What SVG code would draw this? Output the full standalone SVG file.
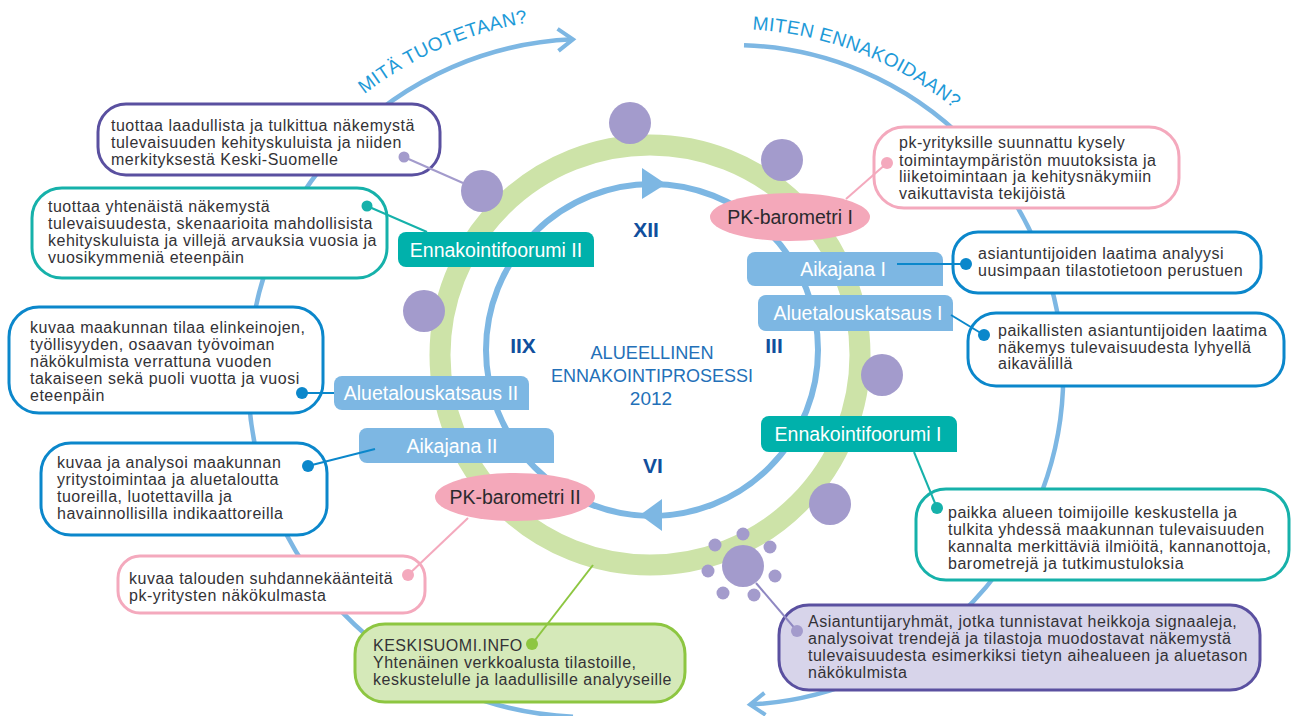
<svg xmlns="http://www.w3.org/2000/svg" width="1291" height="716" viewBox="0 0 1291 716">
  <style>
    .body { font-family: "Liberation Sans", Arial, sans-serif; font-size: 16px; letter-spacing: 0.5px; fill: #333236; }
    .lbl { font-family: "Liberation Sans", Arial, sans-serif; font-size: 19.5px; fill: #ffffff; text-anchor: middle; }
    .ell { font-family: "Liberation Sans", Arial, sans-serif; font-size: 19.5px; fill: #2b2a2e; text-anchor: middle; }
    .num { font-family: "Liberation Sans", Arial, sans-serif; font-size: 21px; font-weight: bold; fill: #114f9d; text-anchor: middle; }
    .title { font-family: "Liberation Sans", Arial, sans-serif; font-size: 19px; fill: #2370b8; text-anchor: middle; }
    .arctxt { font-family: "Liberation Sans", Arial, sans-serif; font-size: 19px; fill: #1e9ad8; letter-spacing: 0.4px; }
    .outer { fill: none; stroke: #7db7e3; stroke-width: 4.5; }
    .box { fill: #ffffff; stroke-width: 3; }
    .b-blue { stroke: #0b87cb; }
    .b-teal { stroke: #16b1aa; }
    .b-purple { stroke: #5a50a0; }
    .b-pink { stroke: #f4a9bd; }
    .b-green { stroke: #8dc641; fill: #d5e9b9; }
    .f-purple { fill: #d7d4ea; }
    .tag-blue { fill: #7db7e3; }
    .tag-teal { fill: #00b1ab; }
    .pill { fill: #f4a8ba; }
    .dotp { fill: #a39bcc; }
    .c { fill: none; stroke-width: 2; }
  </style>
  <defs>
    <marker id="chev" viewBox="-3 -14 22 28" refX="15" refY="0" markerWidth="22" markerHeight="28" markerUnits="userSpaceOnUse" orient="auto">
      <path d="M0,-11 L15,0 L0,11" fill="none" stroke="#7db7e3" stroke-width="4"/>
    </marker>
    <path id="arcL" d="M 364.3 94.3 A 360 360 0 0 1 586 18"/>
    <path id="arcR" d="M 752.3 29.6 A 346 346 0 0 1 998.1 152.6"/>
  </defs>

  <!-- outer process arcs -->
  <g id="outer-arcs">
    <path class="outer" d="M 573 716.7 A 339 339 0 0 1 573 39.3" marker-end="url(#chev)"/>
    <path class="outer" d="M 744 45.2 A 330 330 0 0 1 750 704.6" marker-end="url(#chev)"/>
    <text class="arctxt"><textPath href="#arcL">MITÄ TUOTETAAN?</textPath></text>
    <text class="arctxt"><textPath href="#arcR">MITEN ENNAKOIDAAN?</textPath></text>
  </g>

  <!-- green year ring and inner cycle -->
  <g id="ring">
    <circle cx="650" cy="355" r="210" fill="none" stroke="#cde3a8" stroke-width="21"/>
    <circle cx="652" cy="350" r="166" fill="none" stroke="#7db7e3" stroke-width="6"/>
    <path d="M642,168 L666,184 L642,199 Z" fill="#7db7e3"/>
    <path d="M640,515 L662,499 L662,531 Z" fill="#7db7e3"/>
  </g>

  <g id="ring-dots">
    <circle class="dotp" cx="630" cy="123" r="21"/>
    <circle class="dotp" cx="782" cy="160" r="21"/>
    <circle class="dotp" cx="482" cy="191" r="21"/>
    <circle class="dotp" cx="424" cy="311" r="21"/>
    <circle class="dotp" cx="882" cy="375" r="21"/>
    <circle class="dotp" cx="830" cy="504" r="21"/>
  </g>

  <g id="expert-cluster">
    <circle class="dotp" cx="743" cy="566" r="21"/>
    <circle class="dotp" cx="715" cy="545" r="6.5"/>
    <circle class="dotp" cx="743" cy="534" r="6.5"/>
    <circle class="dotp" cx="770" cy="547" r="6.5"/>
    <circle class="dotp" cx="708" cy="571" r="6.5"/>
    <circle class="dotp" cx="775" cy="576" r="6.5"/>
    <circle class="dotp" cx="723" cy="593" r="6.5"/>
    <circle class="dotp" cx="754" cy="595" r="6.5"/>
  </g>

  <!-- centre -->
  <g id="centre">
    <text class="title" x="652" y="359" textLength="123" lengthAdjust="spacingAndGlyphs">ALUEELLINEN</text>
    <text class="title" x="652" y="382" textLength="202" lengthAdjust="spacingAndGlyphs">ENNAKOINTIPROSESSI</text>
    <text class="title" x="651" y="405">2012</text>
    <text class="num" x="646" y="237">XII</text>
    <text class="num" x="523" y="353">IIX</text>
    <text class="num" x="774" y="353">III</text>
    <text class="num" x="653" y="473">VI</text>
  </g>

  <!-- event tags on the ring -->
  <g id="tag-ennakointifoorumi-2">
    <path class="tag-teal" d="M406,232 H586 A8,8 0 0 1 594,240 V267 H406 A8,8 0 0 1 398,259 V240 A8,8 0 0 1 406,232 Z"/>
    <text class="lbl" x="496" y="257">Ennakointifoorumi II</text>
  </g>
  <g id="tag-aikajana-1">
    <path class="tag-blue" d="M755,252 H935 A8,8 0 0 1 943,260 V286 H755 A8,8 0 0 1 747,278 V260 A8,8 0 0 1 755,252 Z"/>
    <text class="lbl" x="843" y="276">Aikajana I</text>
  </g>
  <g id="tag-aluetalouskatsaus-1">
    <path class="tag-blue" d="M766,295 H945 A8,8 0 0 1 953,303 V331 H766 A8,8 0 0 1 758,323 V303 A8,8 0 0 1 766,295 Z"/>
    <text class="lbl" x="858" y="320">Aluetalouskatsaus I</text>
  </g>
  <g id="tag-ennakointifoorumi-1">
    <path class="tag-teal" d="M769,416 H949 A8,8 0 0 1 957,424 V452 H769 A8,8 0 0 1 761,444 V424 A8,8 0 0 1 769,416 Z"/>
    <text class="lbl" x="858" y="441">Ennakointifoorumi I</text>
  </g>
  <g id="tag-aluetalouskatsaus-2">
    <path class="tag-blue" d="M342,376 H521 A8,8 0 0 1 529,384 V410 H342 A8,8 0 0 1 334,402 V384 A8,8 0 0 1 342,376 Z"/>
    <text class="lbl" x="431" y="400">Aluetalouskatsaus II</text>
  </g>
  <g id="tag-aikajana-2">
    <path class="tag-blue" d="M367,428 H546 A8,8 0 0 1 554,436 V463 H367 A8,8 0 0 1 359,455 V436 A8,8 0 0 1 367,428 Z"/>
    <text class="lbl" x="452" y="453">Aikajana II</text>
  </g>
  <g id="pk-barometri-1">
    <ellipse class="pill" cx="790" cy="217" rx="80" ry="24"/>
    <text class="ell" x="790" y="224">PK-barometri I</text>
  </g>
  <g id="pk-barometri-2">
    <ellipse class="pill" cx="515" cy="497" rx="80" ry="24"/>
    <text class="ell" x="515" y="504">PK-barometri II</text>
  </g>

  <!-- description boxes -->
  <g id="box-tuottaa-laadullista">
    <rect class="box b-purple" x="98" y="104" width="342" height="71" rx="28"/>
    <text class="body" x="111" y="131">tuottaa laadullista ja tulkittua näkemystä</text>
    <text class="body" x="111" y="148">tulevaisuuden kehityskuluista ja niiden</text>
    <text class="body" x="111" y="165">merkityksestä Keski-Suomelle</text>
  </g>
  <g id="box-tuottaa-yhtenaista">
    <rect class="box b-teal" x="32" y="188" width="355" height="90" rx="30"/>
    <text class="body" x="48" y="212">tuottaa yhtenäistä näkemystä</text>
    <text class="body" x="48" y="229">tulevaisuudesta, skenaarioita mahdollisista</text>
    <text class="body" x="48" y="246">kehityskuluista ja villejä arvauksia vuosia ja</text>
    <text class="body" x="48" y="263">vuosikymmeniä eteenpäin</text>
  </g>
  <g id="box-kuvaa-maakunnan">
    <rect class="box b-blue" x="9" y="307" width="314" height="106" rx="30"/>
    <text class="body" x="30" y="333">kuvaa maakunnan tilaa elinkeinojen,</text>
    <text class="body" x="30" y="350">työllisyyden, osaavan työvoiman</text>
    <text class="body" x="30" y="367">näkökulmista verrattuna vuoden</text>
    <text class="body" x="30" y="384">takaiseen sekä puoli vuotta ja vuosi</text>
    <text class="body" x="30" y="401">eteenpäin</text>
  </g>
  <g id="box-kuvaa-ja-analysoi">
    <rect class="box b-blue" x="41" y="443" width="286" height="92" rx="30"/>
    <text class="body" x="57" y="468">kuvaa ja analysoi maakunnan</text>
    <text class="body" x="57" y="485">yritystoimintaa ja aluetaloutta</text>
    <text class="body" x="57" y="502">tuoreilla, luotettavilla ja</text>
    <text class="body" x="57" y="519">havainnollisilla indikaattoreilla</text>
  </g>
  <g id="box-suhdannekaanteet">
    <rect class="box b-pink" x="118" y="556" width="307" height="57" rx="22"/>
    <text class="body" x="129" y="584">kuvaa talouden suhdannekäänteitä</text>
    <text class="body" x="129" y="601">pk-yritysten näkökulmasta</text>
  </g>
  <g id="box-keskisuomi-info">
    <rect class="box b-green" x="355" y="624" width="330" height="78" rx="30"/>
    <text class="body" x="373" y="651">KESKISUOMI.INFO</text>
    <text class="body" x="373" y="668">Yhtenäinen verkkoalusta tilastoille,</text>
    <text class="body" x="373" y="685">keskustelulle ja laadullisille analyyseille</text>
  </g>
  <g id="box-pk-kysely">
    <rect class="box b-pink" x="874" y="127" width="305" height="81" rx="30"/>
    <text class="body" x="899" y="148">pk-yrityksille suunnattu kysely</text>
    <text class="body" x="899" y="166">toimintaympäristön muutoksista ja</text>
    <text class="body" x="899" y="182">liiketoimintaan ja kehitysnäkymiin</text>
    <text class="body" x="899" y="199">vaikuttavista tekijöistä</text>
  </g>
  <g id="box-analyysi">
    <rect class="box b-blue" x="953" y="232" width="308" height="61" rx="25"/>
    <text class="body" x="978" y="259">asiantuntijoiden laatima analyysi</text>
    <text class="body" x="978" y="276">uusimpaan tilastotietoon perustuen</text>
  </g>
  <g id="box-paikallisten">
    <rect class="box b-blue" x="968" y="313" width="316" height="73" rx="28"/>
    <text class="body" x="998" y="336">paikallisten asiantuntijoiden laatima</text>
    <text class="body" x="998" y="353">näkemys tulevaisuudesta lyhyellä</text>
    <text class="body" x="998" y="369">aikavälillä</text>
  </g>
  <g id="box-paikka">
    <rect class="box b-teal" x="916" y="489" width="373" height="91" rx="30"/>
    <text class="body" x="948" y="518">paikka alueen toimijoille keskustella ja</text>
    <text class="body" x="948" y="535">tulkita yhdessä maakunnan tulevaisuuden</text>
    <text class="body" x="948" y="552">kannalta merkittäviä ilmiöitä, kannanottoja,</text>
    <text class="body" x="948" y="569">barometrejä ja tutkimustuloksia</text>
  </g>
  <g id="box-asiantuntijaryhmat">
    <rect class="box b-purple f-purple" x="779" y="605" width="481" height="85" rx="30"/>
    <text class="body" x="808" y="627">Asiantuntijaryhmät, jotka tunnistavat heikkoja signaaleja,</text>
    <text class="body" x="808" y="644">analysoivat trendejä ja tilastoja muodostavat näkemystä</text>
    <text class="body" x="808" y="661">tulevaisuudesta esimerkiksi tietyn aihealueen ja aluetason</text>
    <text class="body" x="808" y="678">näkökulmista</text>
  </g>

  <!-- connectors -->
  <g id="connectors">
    <line class="c" stroke="#a39bcc" x1="404" y1="157" x2="463" y2="183"/>
    <circle cx="404" cy="157" r="5.5" fill="#a39bcc"/>

    <line class="c" stroke="#16b1aa" x1="367" y1="206" x2="427" y2="232"/>
    <circle cx="367" cy="206" r="5.5" fill="#16b1aa"/>

    <line class="c" stroke="#f4a9bd" x1="887" y1="163" x2="846" y2="199"/>
    <circle cx="887" cy="163" r="6" fill="#f4a9bd"/>

    <line class="c" stroke="#0b87cb" stroke-width="2.5" x1="897" y1="264" x2="966" y2="264"/>
    <circle cx="966" cy="264" r="6" fill="#0b87cb"/>

    <line class="c" stroke="#0b87cb" x1="951" y1="315" x2="984" y2="335"/>
    <circle cx="984" cy="335" r="6" fill="#0b87cb"/>

    <line class="c" stroke="#16b1aa" x1="914" y1="452" x2="937" y2="508"/>
    <circle cx="937" cy="508" r="6" fill="#16b1aa"/>

    <line class="c" stroke="#0b87cb" stroke-width="2.5" x1="302" y1="393" x2="334" y2="393"/>
    <circle cx="302" cy="393" r="6" fill="#0b87cb"/>

    <line class="c" stroke="#0b87cb" stroke-width="2.5" x1="308" y1="466" x2="375" y2="449"/>
    <circle cx="308" cy="466" r="6" fill="#0b87cb"/>

    <line class="c" stroke="#f4a9bd" x1="408" y1="575" x2="468" y2="518"/>
    <circle cx="408" cy="575" r="6" fill="#f4a9bd"/>

    <line class="c" stroke="#8dc641" x1="532" y1="644" x2="593" y2="565"/>
    <circle cx="532" cy="644" r="6" fill="#8dc641"/>

    <line class="c" stroke="#8f88c2" x1="756" y1="583" x2="797" y2="631"/>
    <circle cx="797" cy="631" r="6" fill="#a39bcc"/>
  </g>
</svg>
